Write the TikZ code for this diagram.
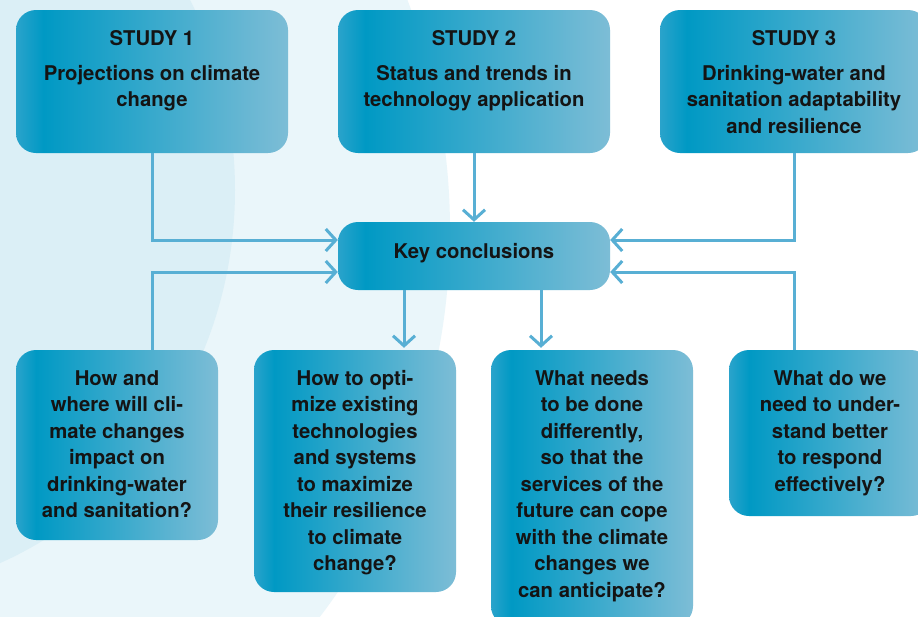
\documentclass[tikz,border=0pt]{standalone}
\usepackage{fontspec}
\setmainfont{TeX Gyre Heros}
\usetikzlibrary{arrows.meta,positioning}

\definecolor{edgeblue}{HTML}{2AA3CB}
\definecolor{deepblue}{HTML}{0099C4}
\definecolor{paleblue}{HTML}{7DBDD6}
\definecolor{linkblue}{HTML}{58AFD4}
\definecolor{bgouter}{HTML}{EAF6FA}
\definecolor{bginner}{HTML}{DBEFF6}

\pgfdeclarehorizontalshading{boxgrad}{100bp}{color(0bp)=(edgeblue); color(25bp)=(edgeblue); color(30bp)=(deepblue); color(75bp)=(paleblue); color(100bp)=(paleblue)}

\tikzset{
  box/.style={rounded corners=20pt, shade, shading=boxgrad, inner sep=0pt},
  txt/.style={font=\bfseries\fontsize{20.3}{26.5}\selectfont, align=center, inner sep=0pt, anchor=north, text=black!92},
  link/.style={draw=linkblue, line width=3pt, -{Straight Barb[length=10pt,width=22pt,line width=3pt]}}
}

\begin{document}
\begin{tikzpicture}[x=1pt,y=-1pt]
\useasboundingbox (0,0) rectangle (918,616);
\fill[white] (0,0) rectangle (918,616);
\begin{scope}
\clip (0,0) rectangle (918,616);
\fill[bgouter] (-190,230) circle (640);
\fill[bginner] (-150,190) ellipse (385 and 405);
\end{scope}

% studies
\node[box, minimum width=272pt, minimum height=143pt] (s1) at (152,81.5) {};
\node[box, minimum width=272pt, minimum height=143pt] (s2) at (474,81.5) {};
\node[box, minimum width=268pt, minimum height=143pt] (s3) at (794,81.5) {};
\node[txt] (t1) at (152,30) {STUDY 1\\[8.5pt]Projections on climate\\change};
\node[txt] (t2) at (474,30) {STUDY 2\\[8.5pt]Status and trends in\\technology application};
\node[txt] (t3) at (794,30) {STUDY 3\\[8.5pt]Drinking-water and\\sanitation adaptability\\and resilience};

% conclusions
\node[box, minimum width=272pt, minimum height=68pt] (key) at (474,256) {};
\node[txt, anchor=center] (tk) at ([yshift=3pt]key.center) {Key conclusions};

% questions
\node[box, minimum width=202pt, minimum height=190pt] (b1) at (117,445) {};
\node[box, minimum width=202pt, minimum height=242pt] (b2) at (355,471) {};
\node[box, minimum width=202pt, minimum height=276pt] (b3) at (592,488) {};
\node[box, minimum width=202pt, minimum height=166pt] (b4) at (830,433) {};
\node[txt] (q1) at (117,370) {How and\\where will cli-\\mate changes\\impact on\\drinking-water\\and sanitation?};
\node[txt] (q2) at (355,370) {How to opti-\\mize existing\\technologies\\and systems\\to maximize\\their resilience\\to climate\\change?};
\node[txt] (q3) at (592,370) {What needs\\to be done\\differently,\\so that the\\services of the\\future can cope\\with the climate\\changes we\\can anticipate?};
\node[txt] (q4) at (830,370) {What do we\\need to under-\\stand better\\to respond\\effectively?};

\draw[link] (s1.south) |- ([yshift=16pt]key.west);
\draw[link] (b1.north -| s1.south) |- ([yshift=-16pt]key.west);
\draw[link] (s2.south) -- (key.north);
\draw[link] (s3.south) |- ([yshift=16pt]key.east);
\draw[link] (b4.north -| s3.south) |- ([yshift=-16pt]key.east);
\draw[link, shorten >=2pt] ([xshift=-70pt]key.south) -- ([xshift=-70pt]key.south |- b2.north);
\draw[link, shorten >=2pt] ([xshift=67pt]key.south) -- ([xshift=67pt]key.south |- b3.north);
\end{tikzpicture}
\end{document}
